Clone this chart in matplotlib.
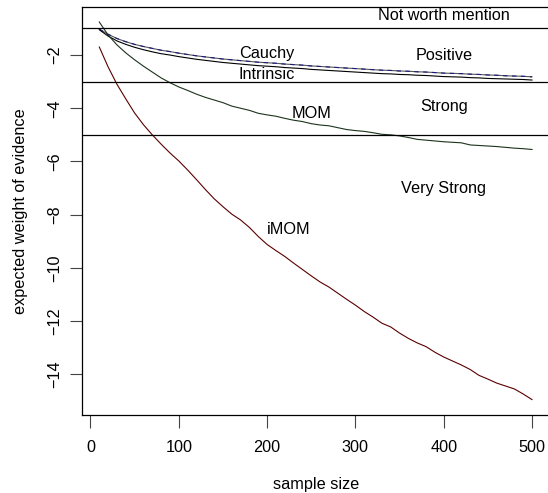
import numpy as np
import matplotlib
matplotlib.use('Agg')
import matplotlib.pyplot as plt

plt.rcParams['font.family'] = ['Liberation Sans', 'DejaVu Sans']

sample_size = list(range(10, 501, 10))

cauchy = [-1.03, -1.22, -1.38, -1.50, -1.60, -1.68, -1.75, -1.82, -1.87, -1.93,
          -1.98, -2.03, -2.07, -2.11, -2.15, -2.18, -2.21, -2.24, -2.27, -2.29,
          -2.31, -2.34, -2.36, -2.38, -2.41, -2.43, -2.45, -2.47, -2.49, -2.51,
          -2.53, -2.55, -2.57, -2.58, -2.60, -2.61, -2.63, -2.64, -2.66, -2.68,
          -2.69, -2.70, -2.72, -2.73, -2.75, -2.76, -2.78, -2.79, -2.80, -2.82]

intrinsic = [-1.05, -1.29, -1.47, -1.60, -1.71, -1.80, -1.88, -1.95, -2.00, -2.06,
             -2.11, -2.16, -2.20, -2.24, -2.28, -2.31, -2.34, -2.37, -2.40, -2.42,
             -2.44, -2.47, -2.49, -2.51, -2.54, -2.56, -2.58, -2.60, -2.62, -2.64,
             -2.66, -2.68, -2.70, -2.71, -2.73, -2.74, -2.76, -2.77, -2.79, -2.81,
             -2.82, -2.83, -2.85, -2.86, -2.88, -2.89, -2.90, -2.91, -2.92, -2.94]

mom = [-0.76, -1.25, -1.62, -1.92, -2.18, -2.42, -2.64, -2.86, -3.04, -3.20,
       -3.33, -3.47, -3.59, -3.69, -3.79, -3.92, -4.00, -4.08, -4.19, -4.25,
       -4.30, -4.38, -4.45, -4.50, -4.58, -4.63, -4.66, -4.73, -4.80, -4.84,
       -4.87, -4.92, -4.98, -5.00, -5.04, -5.10, -5.17, -5.20, -5.23, -5.26,
       -5.28, -5.30, -5.38, -5.40, -5.42, -5.44, -5.47, -5.50, -5.52, -5.55]

imom = [-1.70, -2.45, -3.10, -3.65, -4.18, -4.62, -5.00, -5.35, -5.68, -5.98,
        -6.32, -6.68, -7.05, -7.40, -7.70, -7.98, -8.20, -8.48, -8.82, -9.12,
        -9.35, -9.57, -9.82, -10.06, -10.30, -10.53, -10.72, -10.95, -11.18, -11.40,
        -11.64, -11.85, -12.08, -12.22, -12.45, -12.65, -12.82, -12.96, -13.17, -13.35,
        -13.50, -13.65, -13.82, -14.04, -14.18, -14.33, -14.44, -14.55, -14.74, -14.95]

cutoffs = [-1, -3, -5]
region_labels = ['Not worth mention', 'Positive', 'Strong', 'Very Strong']
region_y = [-0.5, -2.0, -3.95, -7.0]

fig = plt.figure(figsize=(5.48, 4.93), dpi=100)
ax = fig.add_axes([82 / 548, 1 - 415 / 493, (549.3 - 82) / 548, (415 - 7) / 493])

lw = 0.8
ax.plot(sample_size, cauchy, color='#555555', lw=lw)
ax.plot(sample_size, cauchy, color='#1a1a80', lw=lw, ls=(0, (4, 4)))
ax.plot(sample_size, intrinsic, color='black', lw=lw)
ax.plot(sample_size, mom, color='#1c331c', lw=lw)
ax.plot(sample_size, imom, color='#5a0000', lw=lw)

for c in cutoffs:
    ax.axhline(c, color='black', lw=0.9)

fs = 11.7
for lab, yy in zip(region_labels, region_y):
    ax.text(400, yy, lab, ha='center', va='center', fontsize=fs)
ax.text(200, -1.95, 'Cauchy', ha='center', va='center', fontsize=fs)
ax.text(200, -2.75, 'Intrinsic', ha='center', va='center', fontsize=fs)
ax.text(250, -4.2, 'MOM', ha='center', va='center', fontsize=fs)
ax.text(225, -8.55, 'iMOM', ha='center', va='center', fontsize=fs)

ax.set_xlim(-9.6, 519.6)
ax.set_ylim(-15.53, -0.195)
ax.set_xticks([0, 100, 200, 300, 400, 500])
ax.set_yticks([-2, -4, -6, -8, -10, -12, -14])
ax.tick_params(axis='both', length=9, width=0.8, color='#444444', labelsize=fs)
ax.tick_params(axis='x', pad=9)
ax.tick_params(axis='y', pad=5)
for t in ax.get_yticklabels():
    t.set_rotation(90)
    t.set_va('center')
ax.spines['right'].set_visible(False)
for s in ['left', 'top', 'bottom']:
    ax.spines[s].set_linewidth(0.9)

ax.set_xlabel('sample size', fontsize=fs, labelpad=16)
ax.set_ylabel('expected weight of evidence', fontsize=fs, labelpad=14)

fig.savefig('out.png', dpi=100)
